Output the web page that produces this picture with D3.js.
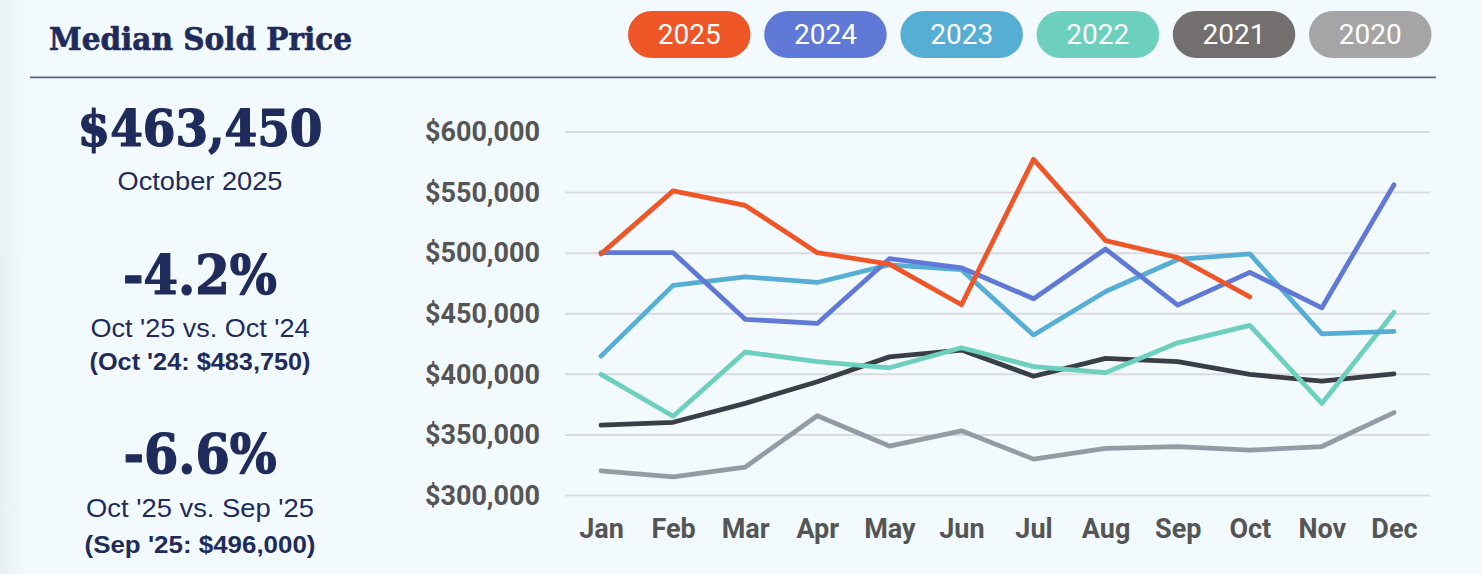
<!DOCTYPE html>
<html>
<head>
<meta charset="utf-8">
<script src="https://cdn.jsdelivr.net/npm/d3@7"></script>
<style>
  html, body { margin: 0; padding: 0; background: #F3FAFE; }
  svg { display: block; }
</style>
</head>
<body>
<svg id="chart" width="1482" height="574"></svg>
<script>
// ---- Data ----
const months = ["Jan","Feb","Mar","Apr","May","Jun","Jul","Aug","Sep","Oct","Nov","Dec"];
const years = ["2025","2024","2023","2022","2021","2020"];
const s2025 = [499000, 551000, 539000, 500000, 490500, 457000, 577000, 510000, 496000, 463450];
const s2024 = [500000, 500000, 445000, 441600, 495000, 487500, 462000, 503000, 456700, 483750, 454500, 556000];
const s2023 = [414600, 473000, 480000, 475400, 490000, 486000, 432000, 468000, 494400, 499000, 433000, 435000];
const s2022 = [399500, 365000, 418000, 410000, 405000, 421500, 406000, 401000, 425600, 440000, 375600, 450700];
const s2021 = [357700, 360000, 375600, 393500, 414000, 419600, 398000, 412700, 410000, 399500, 394000, 400000];
const s2020 = [320000, 315000, 323000, 365400, 340400, 353000, 329600, 338400, 340000, 337000, 340000, 368000];
const yTicks = [300000, 350000, 400000, 450000, 500000, 550000, 600000];

const seriesValues = { "2025": s2025, "2024": s2024, "2023": s2023, "2022": s2022, "2021": s2021, "2020": s2020 };
const lineColors = { "2025": "#EE5627", "2024": "#6179D6", "2023": "#56AED4", "2022": "#6DCFBD", "2021": "#3A3F47", "2020": "#949BA4" };
const pillColors = { "2025": "#EE5627", "2024": "#6179D6", "2023": "#56AED4", "2022": "#6DCFBD", "2021": "#736F6E", "2020": "#A5A5A5" };

const navy = "#1F2B5B";
const serif = "'DejaVu Serif Condensed', 'DejaVu Serif', serif";
const svg = d3.select("#chart");

// background: slight darker strip at left
svg.append("rect").attr("x", 0).attr("y", 0).attr("width", 1482).attr("height", 574).attr("fill", "#F3FAFE");
const grad = svg.append("defs").append("linearGradient").attr("id", "lg").attr("x1", 0).attr("x2", 1);
grad.append("stop").attr("offset", "0%").attr("stop-color", "#E9F0F4");
grad.append("stop").attr("offset", "100%").attr("stop-color", "#F3FAFE");
svg.append("rect").attr("x", 0).attr("y", 0).attr("width", 30).attr("height", 574).attr("fill", "url(#lg)");

// Title
svg.append("text").attr("x", 49).attr("y", 50)
  .attr("font-family", serif).attr("font-weight", "bold").attr("font-size", 31)
  .attr("fill", navy).attr("stroke", navy).attr("stroke-width", 0.6)
  .attr("textLength", 303).attr("lengthAdjust", "spacingAndGlyphs")
  .text("Median Sold Price");

// Rule
svg.append("line").attr("x1", 30).attr("x2", 1436).attr("y1", 77.3).attr("y2", 77.3)
  .attr("stroke", "#5B6589").attr("stroke-width", 1.8);

// Legend pills
const legend = svg.append("g");
years.forEach((yr, i) => {
  const x0 = 628 + i * 136.2;
  legend.append("rect").attr("x", x0).attr("y", 11).attr("width", 122.5).attr("height", 47)
    .attr("rx", 23.5).attr("ry", 23.5).attr("fill", pillColors[yr]);
  legend.append("text").attr("x", x0 + 61.25).attr("y", 44.3).attr("text-anchor", "middle")
    .attr("font-family", "Roboto").attr("font-size", 28).attr("fill", "#FFFFFF").text(yr);
});

// Left panel
const cx = 200;
function txt(y, str, family, weight, size, len, strokeW) {
  const t = svg.append("text").attr("x", cx).attr("y", y).attr("text-anchor", "middle")
    .attr("font-family", family).attr("font-weight", weight).attr("font-size", size)
    .attr("fill", navy).text(str);
  if (len) t.attr("textLength", len).attr("lengthAdjust", "spacingAndGlyphs");
  if (strokeW) t.attr("stroke", navy).attr("stroke-width", strokeW).attr("stroke-linejoin", "round");
  return t;
}
txt(146, "$463,450", serif, "bold", 51, 245, 1.2);
txt(190, "October 2025", "Liberation Sans", "normal", 25.5, 165);
txt(294, "-4.2%", serif, "bold", 54, 154, 1.2);
txt(337, "Oct '25 vs. Oct '24", "Liberation Sans", "normal", 25.5, 219);
txt(369.5, "(Oct '24: $483,750)", "Liberation Sans", "bold", 24, 221);
txt(473, "-6.6%", serif, "bold", 54, 153, 1.2);
txt(517, "Oct '25 vs. Sep '25", "Liberation Sans", "normal", 25.5, 228);
txt(553, "(Sep '25: $496,000)", "Liberation Sans", "bold", 24, 231);

// Chart
const x = d3.scalePoint().domain(months).range([565, 1430]).padding(0.5);
const y = d3.scaleLinear().domain([300000, 600000]).range([495, 131.5]);

// gridlines
const grid = svg.append("g")
  .attr("transform", "translate(565,0)")
  .call(d3.axisLeft(y).tickValues(yTicks).tickSize(-865).tickFormat(""));
grid.select(".domain").remove();
grid.selectAll(".tick line").attr("stroke", "#D9DBDE").attr("stroke-width", 2);

// y axis labels
const yAxis = svg.append("g")
  .attr("transform", "translate(540,0)")
  .call(d3.axisLeft(y).tickValues(yTicks).tickSize(0).tickPadding(0).tickFormat(d => "$" + d3.format(",")(d)));
yAxis.select(".domain").remove();
yAxis.selectAll("text").attr("font-family", "Roboto").attr("font-weight", "bold")
  .attr("font-size", 27).attr("fill", "#555555").attr("dy", "0.34em");

// x axis labels
const xAxis = svg.append("g")
  .attr("transform", "translate(0,519)")
  .call(d3.axisBottom(x).tickSize(0).tickPadding(0));
xAxis.select(".domain").remove();
xAxis.selectAll("text").attr("font-family", "Roboto").attr("font-weight", "bold")
  .attr("font-size", 27).attr("fill", "#555555").attr("dy", "0.72em");

// lines
const line = d3.line().x((d, i) => x(months[i])).y(d => y(d));
const order = ["2020","2021","2022","2023","2024","2025"];
order.forEach(yr => {
  svg.append("path").datum(seriesValues[yr])
    .attr("d", line).attr("fill", "none")
    .attr("stroke", lineColors[yr]).attr("stroke-width", 4.8)
    .attr("stroke-linecap", "round").attr("stroke-linejoin", "round");
});
</script>
</body>
</html>
